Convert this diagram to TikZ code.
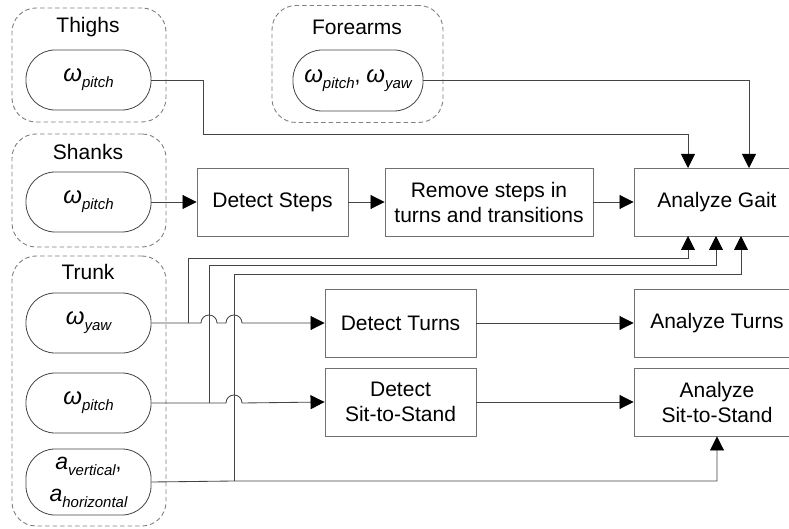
\documentclass[tikz,border=0pt]{standalone}
\usepackage{fontspec}
\setmainfont{Liberation Sans}
\usetikzlibrary{arrows.meta}
\newcommand\lowsub[1]{\raisebox{-0.28em}{\fontsize{15}{15}\selectfont\itshape #1}}
\newcommand\om[1]{{\fontsize{24}{25}\selectfont\itshape ω}\lowsub{#1}}
\definecolor{linegray}{HTML}{444444}
\definecolor{boxgray}{HTML}{707070}
\definecolor{dashgray}{HTML}{808080}
\tikzset{
  every node/.style={font=\fontsize{21}{25}\selectfont, text=black},
  group/.style={draw=dashgray, line width=0.9pt, dash pattern=on 4.5pt off 3pt,
    rounded corners=24pt, minimum width=154pt, inner sep=0pt},
  pill/.style={draw=linegray, line width=0.8pt, rounded corners=29pt,
    minimum width=125pt, minimum height=60pt, inner sep=0pt, align=center},
  procbox/.style={draw=boxgray, line width=0.9pt, minimum height=68pt,
    inner sep=0pt, align=center},
  conn/.style={draw=linegray, line width=0.85pt},
  arr/.style={conn, -{Triangle[length=14pt,width=14pt,color=black]}},
}
\begin{document}
\begin{tikzpicture}[x=1pt, y=-1pt]
  \clip (0,0) rectangle (789,529);
  \fill[white] (0,0) rectangle (789,529);

  % sensor groups
  \node[group, minimum height=114pt] (gThigh) at (89,65) {};
  \node (lThigh) at (88,27) {Thighs};
  \node[pill] (pThigh) at (88.5,80) {\om{pitch}};

  \node[group, minimum width=171pt, minimum height=117pt] (gFore) at (357.5,64) {};
  \node (lFore) at (357,27) {Forearms};
  \node[pill, minimum width=130pt, minimum height=61pt] (pFore) at (358,80.5) {\om{pitch}, \om{yaw}};

  \node[group, minimum height=113pt] (gShank) at (89,190.5) {};
  \node (lShank) at (88,152) {Shanks};
  \node[pill] (pShank) at (88.5,202) {\om{pitch}};

  \node[group, minimum height=270pt] (gTrunk) at (89,391) {};
  \node (lTrunk) at (88,272) {Trunk};
  \node[pill] (pYaw) at (88.5,323) {\om{yaw}};
  \node[pill] (pPitch) at (88.5,403) {\om{pitch}};
  \node[pill, minimum height=66pt, font=\fontsize{21}{32}\selectfont] (pAcc) at (88.5,482)
    {{\fontsize{23}{25}\selectfont\itshape a}\lowsub{vertical},\\{\fontsize{23}{25}\selectfont\itshape a}\lowsub{horizontal}};

  % processing blocks
  \node[procbox, minimum width=151pt] (steps) at (272.5,202) {Detect Steps};
  \node[procbox, minimum width=208pt] (remove) at (489,202) {Remove steps in\\turns and transitions};
  \node[procbox, minimum width=166pt] (gait) at (717,202) {Analyze Gait};
  \node[procbox, minimum width=151pt] (turns) at (400.5,323) {Detect Turns};
  \node[procbox, minimum width=166pt] (aturns) at (717,323) {Analyze Turns};
  \node[procbox, minimum width=151pt] (sit) at (400.5,402) {Detect\\Sit-to-Stand};
  \node[procbox, minimum width=166pt] (asit) at (717,402) {Analyze\\Sit-to-Stand};

  % entry points on the gait block
  \coordinate (gtop1) at (688,168);
  \coordinate (gtop2) at (749,168);
  \coordinate (gbot1) at (688,236);
  \coordinate (gbot2) at (716,236);
  \coordinate (gbot3) at (741,236);

  % branch points on the trunk signal lines
  \coordinate (jYaw) at (188,323);
  \coordinate (jPitch) at (209,403);
  \coordinate (jAcc) at (234,481);

  % thighs and forearms to gait analysis
  \draw[arr] (pThigh.east) -| (203,134) -| (gtop1);
  \draw[arr] (pFore.east) -| (gtop2);

  % step pipeline
  \draw[arr] (pShank.east) -- (steps.west);
  \draw[arr] (steps.east) -- (remove.west);
  \draw[arr] (remove.east) -- (gait.west);

  % trunk yaw: hops over the two vertical feeds
  \draw[arr] (pYaw.east) -- (201,323) arc[start angle=180, end angle=0, radius=8pt]
    -- (226,323) arc[start angle=180, end angle=0, radius=8pt] -- (turns.west);
  \draw[arr] (jYaw) |- (688,258) -- (gbot1);

  % trunk pitch: hop over the acceleration feed
  \draw[arr] (pPitch.east) -- (226,403) arc[start angle=180, end angle=0, radius=8pt]
    -- (sit.west);
  \draw[arr] (jPitch) |- (716,265) -- (gbot2);

  % trunk acceleration
  \draw[arr] (pAcc.east) -- (jAcc) -| (asit.south);
  \draw[arr] (jAcc) |- (741,274) -- (gbot3);

  % detection to analysis
  \draw[arr] (turns.east) -- (aturns.west);
  \draw[arr] (sit.east) -- (asit.west);
\end{tikzpicture}
\end{document}
